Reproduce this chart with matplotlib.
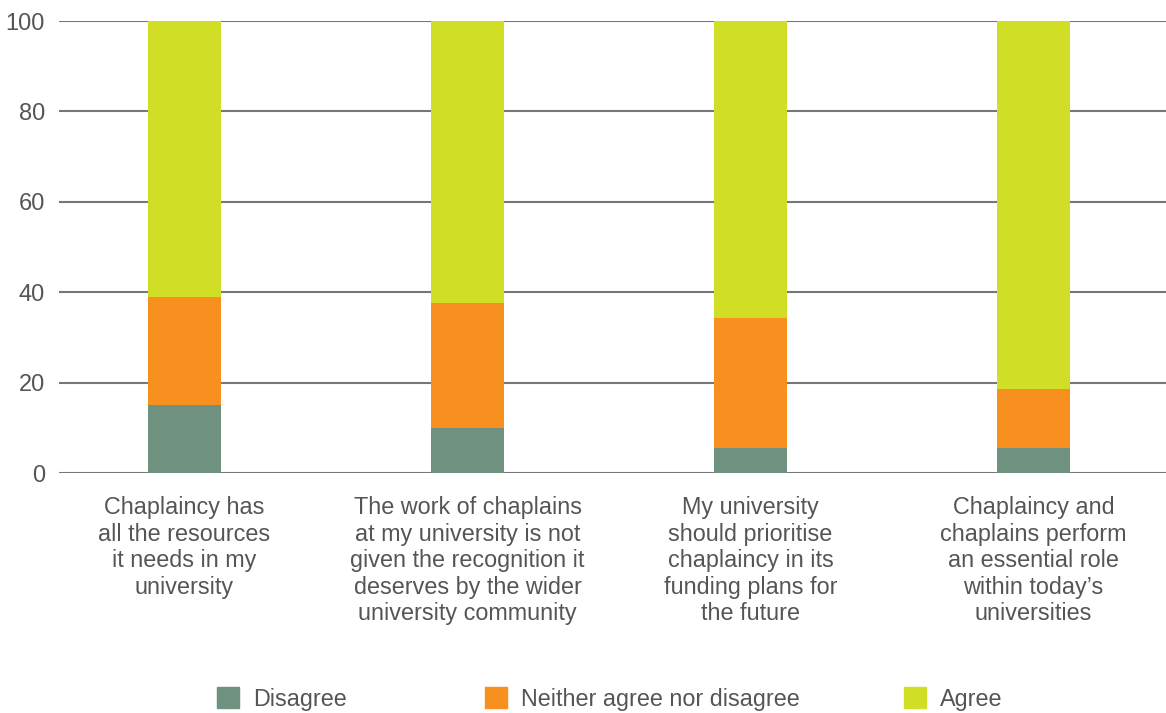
import matplotlib.pyplot as plt
import numpy as np
from matplotlib.patches import Patch

plt.rcParams["font.family"] = ["Liberation Sans", "DejaVu Sans"]

categories = [
    "Chaplaincy has\nall the resources\nit needs in my\nuniversity",
    "The work of chaplains\nat my university is not\ngiven the recognition it\ndeserves by the wider\nuniversity community",
    "My university\nshould prioritise\nchaplaincy in its\nfunding plans for\nthe future",
    "Chaplaincy and\nchaplains perform\nan essential role\nwithin today\u2019s\nuniversities",
]
disagree = [15, 10, 5.6, 5.6]
neither = [24, 27.7, 28.8, 13]
agree = [61, 62.3, 65.6, 81.4]

series_names = ["Disagree", "Neither agree nor disagree", "Agree"]
colors = ["#6f917f", "#f7901e", "#d0de26"]
text_color = "#555555"

fig = plt.figure(figsize=(11.66, 7.13), dpi=100)
ax = fig.add_axes([59 / 1166, 1 - 473 / 713, 1 - 59 / 1166, (473 - 21) / 713])

x = np.arange(len(categories))
width = 0.258
bottom = np.zeros(len(categories))
for vals, color in zip([disagree, neither, agree], colors):
    ax.bar(x, vals, width, bottom=bottom, color=color, zorder=3)
    bottom += np.array(vals)

ax.set_ylim(0, 100)
ax.set_xlim(-0.4435, 3.468)
ax.set_yticks([0, 20, 40, 60, 80, 100])
ax.yaxis.grid(True, color="#777777", linewidth=1.5, zorder=0)
ax.set_axisbelow(True)
for s in ax.spines.values():
    s.set_visible(False)
ax.tick_params(axis="y", length=0, pad=10, labelsize=17, labelcolor=text_color)
ax.set_xticks(x)
ax.set_xticklabels(categories, fontsize=16.8, color=text_color, linespacing=1.2)
ax.tick_params(axis="x", length=0, pad=16.5)

# legend entries, placed individually as in the reference
legend_x = [217, 485, 904]
for name, color, lx in zip(series_names, colors, legend_x):
    leg = fig.legend(
        handles=[Patch(color=color, label=name)],
        loc="center left",
        bbox_to_anchor=(lx / 1166, 1 - 699 / 713),
        frameon=False,
        fontsize=16.8,
        handlelength=0.95,
        handleheight=0.95,
        handletextpad=0.6,
        borderpad=0,
        borderaxespad=0,
    )
    for t in leg.get_texts():
        t.set_color(text_color)

plt.savefig("out.png", dpi=100)
